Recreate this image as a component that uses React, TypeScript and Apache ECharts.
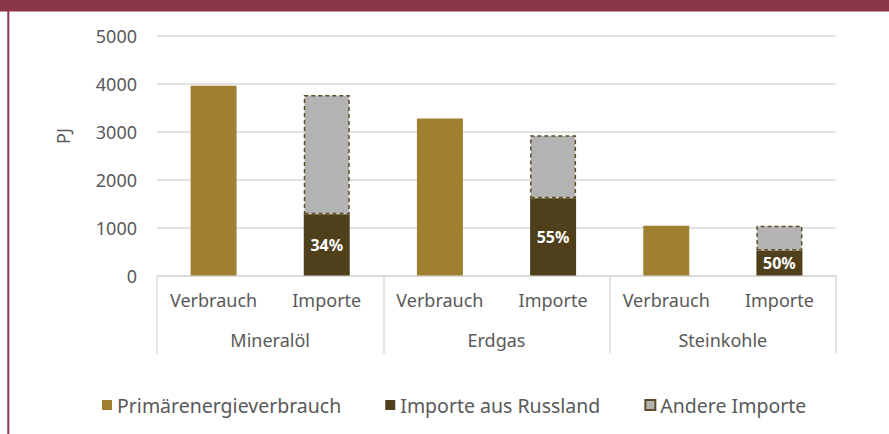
import React, { useEffect, useRef } from "react";
import * as echarts from "echarts";

const categories = ["Verbrauch", "Importe", "Verbrauch", "Importe", "Verbrauch", "Importe"];
const groups = ["Mineralöl", "Erdgas", "Steinkohle"];
const primaer = [3960, "-", 3280, "-", 1040, "-"];
const russland = ["-", 1280, "-", 1615, "-", 520];
const andere = ["-", 2490, "-", 1315, "-", 520];
const russlandShare = ["", "34%", "", "55%", "", "50%"];
const yTicks = { min: 0, max: 5000, interval: 1000 };

const FONT = "'Noto Sans', sans-serif";
const TEXT = "#595959";
const GRID = "#d9d9d9";

export default function App() {
  const ref = useRef<HTMLDivElement>(null);
  useEffect(() => {
    document.body.style.margin = "0";
    const chart = echarts.init(ref.current!, null, { renderer: "svg" });
    chart.setOption({
      animation: false,
      backgroundColor: "#ffffff",
      textStyle: { fontFamily: FONT },
      grid: { left: 157, right: 53, top: 36, bottom: 158.5, containLabel: false },
      legend: {
        left: 97,
        top: 390,
        itemWidth: 10,
        itemHeight: 10,
        itemGap: 44,
        icon: "rect",
        textStyle: { fontFamily: FONT, fontSize: 19.5, color: TEXT },
        data: ["Primärenergieverbrauch", "Importe aus Russland", "Andere Importe"],
      },
      xAxis: [
        {
          type: "category",
          data: categories,
          position: "bottom",
          axisLine: { show: true, lineStyle: { color: GRID, width: 1.5 } },
          axisTick: { show: false },
          axisLabel: { margin: 15, fontSize: 18, color: TEXT, fontFamily: FONT, interval: 0 },
          splitLine: { show: false },
        },
        {
          type: "category",
          data: groups,
          position: "bottom",
          axisLine: { show: false },
          axisTick: { show: true, length: 78, lineStyle: { color: GRID, width: 1.5 } },
          axisLabel: { margin: 55, fontSize: 18, color: TEXT, fontFamily: FONT, interval: 0 },
          splitLine: { show: false },
        },
      ],
      yAxis: {
        type: "value",
        min: yTicks.min,
        max: yTicks.max,
        interval: yTicks.interval,
        axisLine: { show: false },
        axisTick: { show: false },
        axisLabel: {
          margin: 20,
          fontSize: 18,
          color: TEXT,
          fontFamily: FONT,
          formatter: (v: number) => String(v),
        },
        splitLine: { lineStyle: { color: GRID, width: 1.5 } },
      },
      graphic: [
        { type: "rect", shape: { x: 0, y: 0, width: 889, height: 11.5 }, style: { fill: "#8A3549" }, silent: true },
        { type: "rect", shape: { x: 7.3, y: 0, width: 2, height: 434 }, style: { fill: "#8A3549" }, silent: true },
        {
          type: "text",
          x: 63,
          y: 136,
          rotation: Math.PI / 2,
          style: { text: "PJ", fill: TEXT, fontSize: 18, fontFamily: FONT, align: "center", verticalAlign: "middle" },
        },
      ],
      series: [
        {
          name: "Primärenergieverbrauch",
          type: "bar",
          stack: "s",
          barWidth: 46,
          data: primaer,
          itemStyle: { color: "#A07F31" },
        },
        {
          name: "Importe aus Russland",
          type: "bar",
          stack: "s",
          barWidth: 46,
          data: russland,
          itemStyle: { color: "#4F3F1B" },
          label: {
            show: true,
            position: "inside",
            color: "#ffffff",
            fontWeight: "bold",
            fontSize: 16,
            fontFamily: FONT,
            formatter: (p: any) => russlandShare[p.dataIndex],
          },
        },
        {
          name: "Andere Importe",
          type: "bar",
          stack: "s",
          barWidth: 46,
          data: andere,
          itemStyle: {
            color: "#B3B3B3",
            borderColor: "#5E4B27",
            borderWidth: 1.5,
            borderType: [4, 3],
          },
        },
      ],
    });
    return () => chart.dispose();
  }, []);
  return (
    <div
      ref={ref}
      style={{ position: "fixed", left: 0, top: 0, width: 889, height: 434, background: "#fff" }}
    />
  );
}
